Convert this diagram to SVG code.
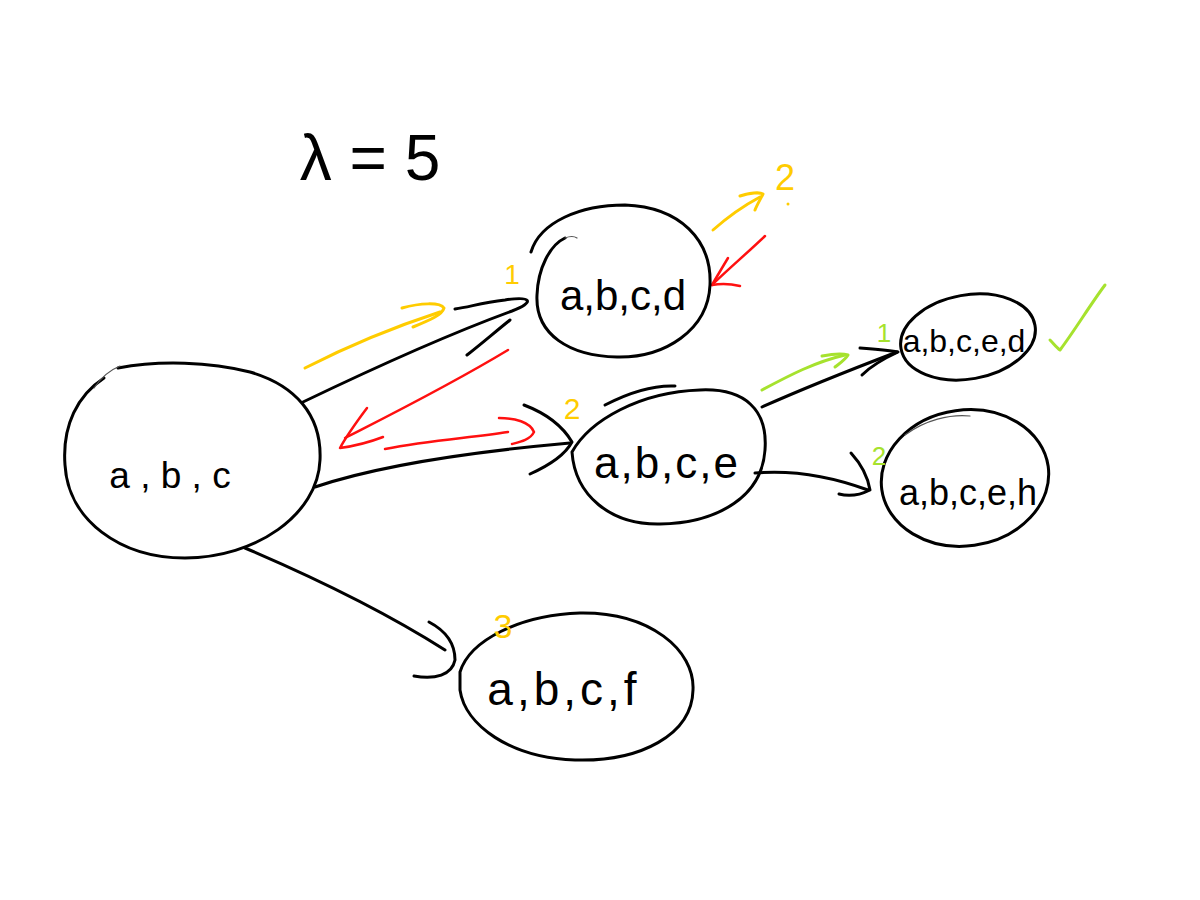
<svg xmlns="http://www.w3.org/2000/svg" width="1200" height="900" viewBox="0 0 1200 900">
<style>
.ink{fill:none;stroke:#000;stroke-width:3;stroke-linecap:round;stroke-linejoin:round}
.thin{fill:none;stroke:#555;stroke-width:1.2;stroke-linecap:round}
.y{fill:none;stroke:#FFCC00;stroke-width:3;stroke-linecap:round;stroke-linejoin:round}
.r{fill:none;stroke:#FF1010;stroke-width:2.5;stroke-linecap:round;stroke-linejoin:round}
.g{fill:none;stroke:#A6E22E;stroke-width:3;stroke-linecap:round;stroke-linejoin:round}
.t{font-family:"Liberation Sans","DejaVu Sans",sans-serif;fill:#000;text-anchor:middle}
.ty{font-family:"Liberation Sans","DejaVu Sans",sans-serif;fill:#FFCC00;text-anchor:middle}
.tg{font-family:"Liberation Sans","DejaVu Sans",sans-serif;fill:#A6E22E;text-anchor:middle}
</style>
<rect width="1200" height="900" fill="#fff"/>

<text class="t" x="370" y="180" font-size="64">λ = 5</text>

<g id="connectors">
  <!-- abc -> abcd -->
  <path class="ink" d="M303,402 C380,365 460,330 512,311 C535,302 532,296 505,300 C480,303 470,307 455,309"/>
  <path class="ink" d="M467,355 C480,345 495,332 510,320"/>
  <!-- abc -> abce -->
  <path class="ink" d="M315,487 C380,465 470,452 570,443"/>
  <path class="ink" d="M524,405 C545,413 562,425 572,442 C565,455 550,465 530,474"/>
  <!-- abc -> abcf -->
  <path class="ink" d="M245,548 C320,580 390,615 445,650"/>
  <path class="ink" d="M429,622 C448,632 455,645 455,660 C452,675 435,680 414,676"/>
  <!-- abce -> abced -->
  <path class="ink" d="M762,407 C800,390 850,370 897,352"/>
  <path class="ink" d="M860,348 C875,349 888,350 898,352 C885,358 872,365 862,375"/>
  <!-- abce -> abceh -->
  <path class="ink" d="M755,473 C790,470 830,476 868,490"/>
  <path class="ink" d="M851,453 C862,465 868,478 870,490 C860,495 850,497 839,494"/>

  <!-- yellow arrow abc->abcd -->
  <path class="y" d="M305,368 C350,345 400,325 440,312"/>
  <path class="y" d="M402,308 C420,303 440,302 444,308 C442,315 430,320 413,327"/>
  <!-- yellow arrow out of abcd -->
  <path class="y" d="M713,230 C730,215 745,205 760,197"/>
  <path class="y" d="M740,196 C750,193 760,192 763,194 C760,200 757,205 755,210"/>
  <!-- red arrow into abcd -->
  <path class="r" d="M765,236 C745,255 725,272 712,285"/>
  <path class="r" d="M728,258 C722,268 716,278 712,285 C722,283 732,284 740,286"/>
  <!-- red arrow abcd->abc -->
  <path class="r" d="M508,350 C450,385 390,415 345,438"/>
  <path class="r" d="M367,408 C358,420 347,435 340,448 C355,446 370,442 383,437"/>
  <!-- red arrow abc->abce -->
  <path class="r" d="M385,449 C430,440 470,438 508,432"/>
  <path class="r" d="M499,418 C515,418 530,422 534,432 C530,440 520,442 512,444"/>
  <!-- green arrow abce->abced -->
  <path class="g" d="M762,390 C790,375 815,362 845,355"/>
  <path class="g" d="M822,356 C832,354 842,353 848,355 C845,360 840,363 835,367"/>
</g>

<g id="node-abc">
  <path class="ink" d="M118,368 C160,360 210,362 250,372 C295,385 322,415 320,460 C318,515 255,558 185,558 C120,558 68,520 65,465 C62,425 78,395 104,378"/>
  <path class="thin" d="M94,388 C102,376 110,370 120,366"/>
  <text class="t" x="170" y="488" font-size="37">a , b , c</text>
</g>

<g id="node-abcd">
  <path class="ink" d="M531,252 C540,222 580,205 625,205 C680,207 712,240 710,285 C708,330 665,358 617,357 C570,356 535,335 537,295 C538,268 550,245 565,238"/>
  <path class="thin" d="M565,238 C570,236 574,236 577,238"/>
  <text class="t" x="623" y="310" font-size="42">a,b,c,d</text>
  <text class="ty" x="512" y="284" font-size="28">1</text>
  <text class="ty" x="785" y="190" font-size="36">2</text>
  <circle cx="788" cy="204" r="1.5" fill="#FFCC00"/>
</g>

<g id="node-abce">
  <path class="ink" d="M572,452 C590,420 640,392 700,390 C745,388 768,410 765,450 C762,495 720,523 660,524 C610,525 575,495 572,452 Z"/>
  <path class="ink" d="M605,405 C630,392 652,385 675,386"/>
  <text class="t" x="667" y="478" font-size="44" letter-spacing="2">a,b,c,e</text>
  <text class="ty" x="572" y="419" font-size="30">2</text>
</g>

<g id="node-abced">
  <ellipse class="ink" cx="968" cy="337" rx="68" ry="42" transform="rotate(-10 968 337)"/>
  <text class="t" x="964" y="352" font-size="32">a,b,c,e,d</text>
  <text class="tg" x="884" y="342" font-size="26">1</text>
  <path class="g" d="M1050,340 C1054,344 1057,348 1060,350 C1075,330 1090,305 1105,285"/>
</g>

<g id="node-abceh">
  <ellipse class="ink" cx="965" cy="478" rx="84" ry="68" transform="rotate(-8 965 478)"/>
  <path class="thin" d="M905,435 C925,420 950,414 970,416"/>
  <text class="t" x="968" y="505" font-size="36">a,b,c,e,h</text>
  <text class="tg" x="879" y="465" font-size="26">2</text>
</g>

<g id="node-abcf">
  <path class="ink" d="M460,672 C470,640 520,615 580,613 C650,612 695,650 693,690 C692,735 640,762 575,760 C510,758 465,725 460,690 Z"/>
  <text class="t" x="564" y="705" font-size="46" letter-spacing="4">a,b,c,f</text>
  <text class="ty" x="503" y="638" font-size="34">3</text>
</g>
</svg>
